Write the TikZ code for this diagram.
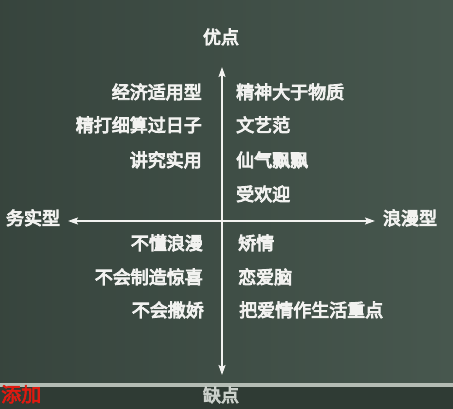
\documentclass[tikz,border=0pt]{standalone}
\usepackage{fontspec}
\setmainfont{Noto Sans CJK SC}
\newfontfamily\heavy[FakeBold=5]{Noto Sans CJK SC}
\newfontfamily\heavyred[FakeBold=3]{Noto Sans CJK SC}
\usetikzlibrary{arrows.meta}
\definecolor{board}{HTML}{3D4C44}
\definecolor{boardlight}{HTML}{47574E}
\definecolor{band}{HTML}{2F3B34}
\definecolor{chalk}{HTML}{F2F2F0}
\definecolor{rule}{HTML}{B4BCB4}
\definecolor{redtxt}{HTML}{E01A10}
\tikzset{
  lbl/.style={font=\heavy\fontsize{18}{18}\selectfont, text=chalk, inner sep=0pt, text height=0.88em, text depth=0.12em},
  lft/.style={lbl, anchor=east},
  rgt/.style={lbl, anchor=west},
  axis/.style={draw=chalk, line width=1.8pt, {Stealth[length=10pt,width=7pt,inset=2pt]}-{Stealth[length=10pt,width=7pt,inset=2pt]}},
}
\begin{document}
\begin{tikzpicture}[x=1pt,y=-1pt]
\useasboundingbox (0,0) rectangle (453,409);
\clip (0,0) rectangle (453,409);
\shade[left color=board!90!black, right color=boardlight] (0,0) rectangle (453,385);
\fill[band] (0,385) rectangle (453,409);
\fill[rule] (0,383) rectangle (453,387);
% axis labels
\node[lbl] (top) at (221,40) {优点};
\node[lbl, text=rule!70!white] (bot) at (221,398) {缺点};
\node[lbl] (lt) at (33,221) {务实型};
\node[lbl] (rt) at (410,221) {浪漫型};
\coordinate (vt) at (222,67);
\coordinate (vb) at (222,375);
\coordinate (hl) at (68,221);
\coordinate (hr) at (375,221);
\draw[axis] (vb) -- (vt);
\draw[axis] (hl) -- (hr);
% left column
\node[lft] (l1) at (202,95) {经济适用型};
\node[lft] (l2) at (202,128) {精打细算过日子};
\node[lft] (l3) at (202,163) {讲究实用};
\node[lft] (l4) at (203,246) {不懂浪漫};
\node[lft] (l5) at (203,280) {不会制造惊喜};
\node[lft] (l6) at (204,313) {不会撒娇};
% right column
\node[rgt] (r1) at (236,95) {精神大于物质};
\node[rgt] (r2) at (236,128) {文艺范};
\node[rgt] (r3) at (236,163) {仙气飘飘};
\node[rgt] (r4) at (236,197) {受欢迎};
\node[rgt] (r5) at (238,246) {矫情};
\node[rgt] (r6) at (238,280) {恋爱脑};
\node[rgt] (r7) at (239,313) {把爱情作生活重点};
% red text
\node[font=\heavyred\fontsize{20}{20}\selectfont, text=redtxt, anchor=west, inner sep=0pt, text height=0.88em, text depth=0.12em] (red) at (1,398) {添加};
\end{tikzpicture}
\end{document}
